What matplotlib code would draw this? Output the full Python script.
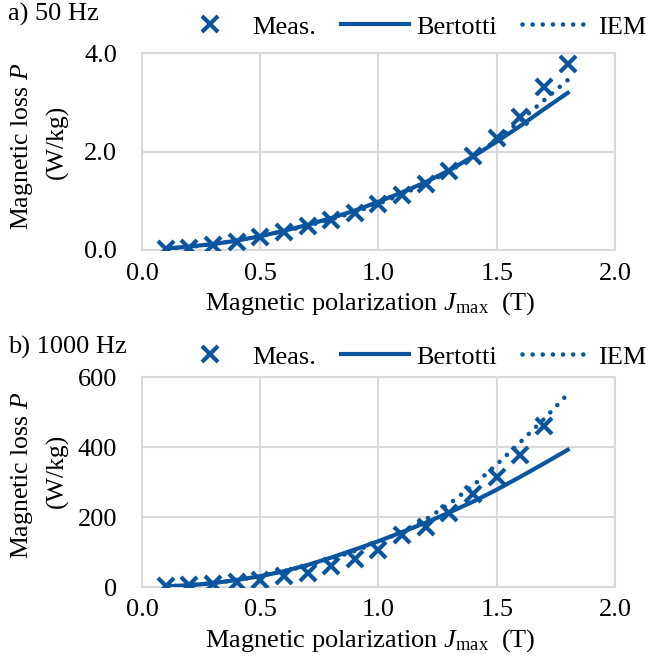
import matplotlib
matplotlib.use("Agg")
import matplotlib.pyplot as plt
from matplotlib.ticker import FormatStrFormatter

plt.rcParams["font.family"] = ["Liberation Serif", "DejaVu Serif"]
plt.rcParams["mathtext.fontset"] = "custom"
plt.rcParams["mathtext.rm"] = "Liberation Serif"
plt.rcParams["mathtext.it"] = "Liberation Serif:italic"

# polarization (T)
j_meas = [0.1, 0.2, 0.3, 0.4, 0.5, 0.6, 0.7, 0.8, 0.9, 1.0, 1.1, 1.2, 1.3, 1.4, 1.5, 1.6, 1.7, 1.8]
j_model = [0.1, 0.2, 0.3, 0.4, 0.5, 0.6, 0.7, 0.8, 0.9, 1.0, 1.1, 1.2, 1.3, 1.4, 1.5, 1.6, 1.7, 1.8]

# a) 50 Hz  (W/kg)
p50_meas = [0.02, 0.04, 0.10, 0.17, 0.27, 0.37, 0.48, 0.61, 0.75, 0.93, 1.12, 1.33, 1.61, 1.90, 2.27, 2.71, 3.31, 3.78]
p50_bert = [0.03, 0.07, 0.12, 0.19, 0.28, 0.39, 0.51, 0.65, 0.80, 0.98, 1.17, 1.38, 1.62, 1.90, 2.20, 2.52, 2.86, 3.19]
p50_iem = [0.02, 0.06, 0.12, 0.19, 0.28, 0.38, 0.49, 0.62, 0.77, 0.94, 1.13, 1.35, 1.60, 1.89, 2.23, 2.63, 3.04, 3.45]

# b) 1000 Hz (W/kg)
j_meas_b = j_meas[:-1]
p1k_meas = [2, 5, 9, 14, 21, 31, 41, 60, 79, 105, 148, 172, 212, 266, 314, 377, 461]
p1k_bert = [2, 5, 11, 20, 31, 45, 63, 84, 107, 131, 157, 184, 213, 244, 278, 315, 353, 392]
p1k_iem = [2, 5, 11, 20, 31, 45, 61, 80, 103, 128, 158, 193, 238, 290, 350, 414, 480, 551]

blue = "#0A559E"
grid_c = "#D9D9D9"
fs = 19

fig = plt.figure(figsize=(6.49, 6.58), dpi=100)
W, H = 649, 658
ax1 = fig.add_axes([142 / W, 1 - 250 / H, (615 - 142) / W, (250 - 53) / H])
ax2 = fig.add_axes([142 / W, 1 - 587 / H, (615 - 142) / W, (587 - 377) / H])


def style(ax, ymax, yticks, fmt):
    ax.set_xlim(0, 2.0)
    ax.set_ylim(0, ymax)
    ax.set_xticks([0.0, 0.5, 1.0, 1.5, 2.0])
    ax.set_yticks(yticks)
    ax.xaxis.set_major_formatter(FormatStrFormatter("%.1f"))
    ax.yaxis.set_major_formatter(FormatStrFormatter(fmt))
    ax.grid(True, color=grid_c, lw=1.5)
    ax.set_axisbelow(True)
    for s in ax.spines.values():
        s.set_color(grid_c)
        s.set_linewidth(1.5)
    ax.tick_params(length=0, labelsize=fs)
    ax.tick_params(axis="y", pad=18)
    ax.tick_params(axis="x", pad=9)
    ax.set_xlabel("Magnetic polarization $J_{\\mathrm{max}}$  (T)", fontsize=fs)
    ax.xaxis.set_label_coords(0.482, -0.205 * 197 / ax.bbox.height * fig.dpi / 100)


panels = [
    (ax1, j_meas, p50_meas, p50_bert, p50_iem, 4.0, [0, 2, 4], "%.1f", "a) 50 Hz", 14, 27, 146),
    (ax2, j_meas_b, p1k_meas, p1k_bert, p1k_iem, 600, [0, 200, 400, 600], "%d", "b) 1000 Hz", 347, 357, 475),
]
for ax, jm, pm, pb, pi, ymax, yt, fmt, lab, ytxt, yleg, ylab in panels:
    style(ax, ymax, yt, fmt)
    ax.plot(jm, pm, ls="none", marker="x", ms=11, mew=3, color=blue, label="Meas.", zorder=4)
    ax.plot(j_model, pb, ls="-", lw=3, color=blue, label="Bertotti", zorder=3)
    ax.plot(j_model, pi, ls=(0, (0.01, 2.2)), lw=3.3, dash_capstyle="round", color=blue, label="IEM", zorder=3)
    fig.text(8 / W, 1 - ytxt / H, lab, fontsize=fs, va="center", ha="left")
    # two-line y label
    fig.text(28 / W, 1 - ylab / H, "Magnetic loss $P$", fontsize=18.5, rotation=90,
             rotation_mode="anchor", ha="center", va="baseline")
    fig.text(63 / W, 1 - (ylab - 4) / H, "(W/kg)", fontsize=18.5, rotation=90,
             rotation_mode="anchor", ha="center", va="baseline")
    ax.legend(loc="center left", bbox_to_anchor=(176 / W, 1 - yleg / H), bbox_transform=fig.transFigure,
              ncol=3, frameon=False, fontsize=fs, handlelength=2.6, handletextpad=0.27,
              columnspacing=0.95, borderpad=0, borderaxespad=0)

fig.savefig("out.png", dpi=100)
